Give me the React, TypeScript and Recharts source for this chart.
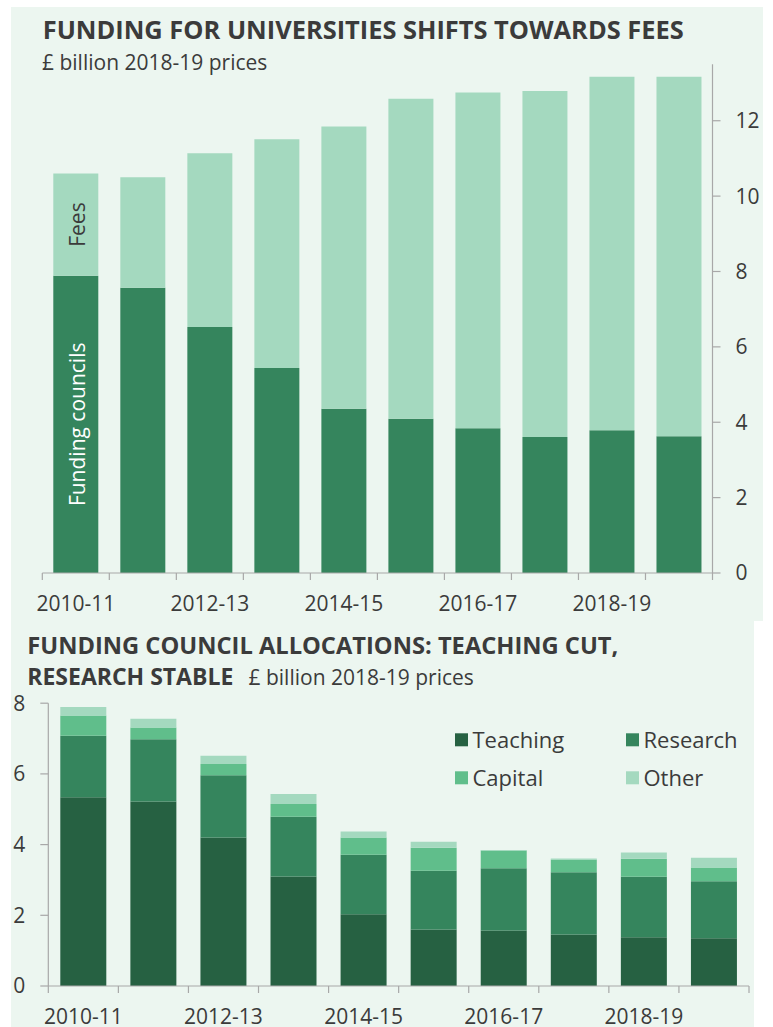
import React from 'react';
import { BarChart, Bar, XAxis, YAxis, LabelList } from 'recharts';

// ---------- data ----------
const years = ['2010-11', '2011-12', '2012-13', '2013-14', '2014-15', '2015-16', '2016-17', '2017-18', '2018-19', '2019-20'];
const fundingCouncils = [7.89, 7.57, 6.53, 5.44, 4.36, 4.09, 3.84, 3.61, 3.79, 3.63];
const fees = [2.71, 2.93, 4.61, 6.07, 7.49, 8.49, 8.91, 9.18, 9.38, 9.54];
const topTicks = [0, 2, 4, 6, 8, 10, 12];

const teaching = [5.34, 5.22, 4.2, 3.1, 2.03, 1.6, 1.57, 1.46, 1.38, 1.35];
const research = [1.74, 1.76, 1.76, 1.69, 1.68, 1.66, 1.76, 1.76, 1.71, 1.61];
const capital = [0.57, 0.33, 0.32, 0.36, 0.49, 0.65, 0.5, 0.36, 0.51, 0.39];
const other = [0.24, 0.25, 0.23, 0.28, 0.17, 0.17, 0.02, 0.03, 0.18, 0.28];
const bottomTicks = [0, 2, 4, 6, 8];
const allocationSeries = ['Teaching', 'Research', 'Capital', 'Other'];

const topData = years.map((y, i) => ({ year: y, fc: fundingCouncils[i], fees: fees[i] }));
const bottomData = years.map((y, i) => ({
  year: y,
  Teaching: teaching[i],
  Research: research[i],
  Capital: capital[i],
  Other: other[i],
}));

// ---------- style ----------
const FONT = '"Open Sans", sans-serif';
const TEXT = '#3b3b3b';
const AXIS = '#a8a8a8';
const BG = '#ecf6f0';
const DARK = '#266142';
const MID = '#35855d';
const LIGHT = '#60be8b';
const PALE = '#a4d9bf';
const seriesColors: Record<string, string> = { Teaching: DARK, Research: MID, Capital: LIGHT, Other: PALE };

// top chart geometry
const T_W = 773;
const T_H = 640;
const T_LEFT = 42.3;
const T_RIGHT = 712.5;
const T_TOP = 64.2;
const T_BOTTOM = 573;
const T_YW = 60;
const T_XH = 50;
const T_BW = (T_RIGHT - T_LEFT) / years.length;

// bottom chart geometry
const B_OFF = 620;
const B_W = 773;
const B_H = 407;
const B_LEFT = 48.3;
const B_RIGHT = 749;
const B_TOP = 703.2;
const B_BOTTOM = 986;
const B_XH = 41;
const B_BW = (B_RIGHT - B_LEFT) / years.length;

const makeXTick = (bw: number, n: number) => (props: any) => {
  const { x, y, index, payload } = props;
  const left = x - bw / 2;
  return (
    <g>
      <line x1={left} y1={y} x2={left} y2={y + 7} stroke={AXIS} strokeWidth={1.2} />
      {index === n - 1 && (
        <line x1={x + bw / 2} y1={y} x2={x + bw / 2} y2={y + 7} stroke={AXIS} strokeWidth={1.2} />
      )}
      {index % 2 === 0 && (
        <text x={x} y={y + 38} textAnchor="middle" fill={TEXT} fontSize={21} fontFamily={FONT}>
          {payload.value}
        </text>
      )}
    </g>
  );
};

const TopTick = makeXTick(T_BW, years.length);
const BottomTick = makeXTick(B_BW, years.length);

const sideLabel = (text: string, color: string) => (props: any) => {
  const { x, y, width, height, index } = props;
  if (index !== 0) return null;
  const cx = Number(x) + Number(width) / 2;
  const cy = Number(y) + Number(height) / 2;
  return (
    <text
      x={cx}
      y={cy + 9}
      transform={`rotate(-90 ${cx} ${cy})`}
      textAnchor="middle"
      fill={color}
      fontSize={21}
      fontFamily={FONT}
    >
      {text}
    </text>
  );
};

const tickStyle = { fill: TEXT, fontSize: 21, fontFamily: FONT };

export default function App() {
  return (
    <div style={{ position: 'absolute', left: 0, top: 0, width: 773, height: 1027, overflow: 'hidden' }}>
      <div style={{ position: 'absolute', left: 11, top: 7, width: 752, height: 614, background: BG }} />
      <div style={{ position: 'absolute', left: 11, top: 621, width: 743, height: 406, background: BG }} />

      <div style={{ position: 'absolute', left: 0, top: 0 }}>
        <BarChart
          width={T_W}
          height={T_H}
          data={topData}
          margin={{ top: T_TOP, left: T_LEFT, right: T_W - T_RIGHT - T_YW, bottom: T_H - T_BOTTOM - T_XH }}
        >
          <XAxis
            dataKey="year"
            height={T_XH}
            interval={0}
            tickLine={false}
            tickSize={0}
            tickMargin={0}
            axisLine={{ stroke: AXIS, strokeWidth: 1.2 }}
            tick={<TopTick />}
          />
          <YAxis
            orientation="right"
            width={T_YW}
            domain={[0, 13.5]}
            ticks={topTicks}
            tickSize={8}
            tickMargin={15}
            axisLine={{ stroke: AXIS, strokeWidth: 1.2 }}
            tickLine={{ stroke: AXIS, strokeWidth: 1.2 }}
            tick={tickStyle}
          />
          <Bar dataKey="fc" stackId="a" fill={MID} barSize={45} isAnimationActive={false}>
            <LabelList dataKey="fc" content={sideLabel('Funding councils', '#ffffff')} />
          </Bar>
          <Bar dataKey="fees" stackId="a" fill={PALE} barSize={45} isAnimationActive={false}>
            <LabelList dataKey="fees" content={sideLabel('Fees', TEXT)} />
          </Bar>
        </BarChart>
      </div>

      <div style={{ position: 'absolute', left: 0, top: B_OFF }}>
        <BarChart
          width={B_W}
          height={B_H}
          data={bottomData}
          margin={{ top: B_TOP - B_OFF, left: 0, right: B_W - B_RIGHT, bottom: B_H - (B_BOTTOM - B_OFF) - B_XH }}
        >
          <XAxis
            dataKey="year"
            height={B_XH}
            interval={0}
            tickLine={false}
            tickSize={0}
            tickMargin={0}
            axisLine={{ stroke: AXIS, strokeWidth: 1.2 }}
            tick={<BottomTick />}
          />
          <YAxis
            orientation="left"
            width={B_LEFT}
            domain={[0, 8]}
            ticks={bottomTicks}
            tickSize={8}
            tickMargin={15}
            axisLine={{ stroke: AXIS, strokeWidth: 1.2 }}
            tickLine={{ stroke: AXIS, strokeWidth: 1.2 }}
            tick={tickStyle}
          />
          {allocationSeries.map((s) => (
            <Bar key={s} dataKey={s} stackId="b" fill={seriesColors[s]} barSize={46} isAnimationActive={false} />
          ))}
        </BarChart>
      </div>

      <svg width={773} height={1027} style={{ position: 'absolute', left: 0, top: 0, pointerEvents: 'none' }}>
        <text
          x={42.7}
          y={38.8}
          fontFamily={FONT}
          fontWeight={700}
          fontSize={25}
          fill={TEXT}
          textLength={641}
          lengthAdjust="spacingAndGlyphs"
        >
          FUNDING FOR UNIVERSITIES SHIFTS TOWARDS FEES
        </text>
        <text x={42} y={70} fontFamily={FONT} fontSize={21} fill={TEXT}>
          £ billion 2018-19 prices
        </text>
        <text
          x={27.3}
          y={654}
          fontFamily={FONT}
          fontWeight={700}
          fontSize={23.5}
          fill={TEXT}
          textLength={591}
          lengthAdjust="spacingAndGlyphs"
        >
          FUNDING COUNCIL ALLOCATIONS: TEACHING CUT,
        </text>
        <text x={27.3} y={685} fontFamily={FONT} fontWeight={700} fontSize={23.5} fill={TEXT}
          textLength={206} lengthAdjust="spacingAndGlyphs">
          RESEARCH STABLE
        </text>
        <text x={248.5} y={685} fontFamily={FONT} fontSize={21} fill={TEXT}>
          £ billion 2018-19 prices
        </text>
        {allocationSeries.map((s, i) => {
          const col = i % 2;
          const row = Math.floor(i / 2);
          const sx = col === 0 ? 455 : 626;
          const base = 748.3 + row * 38;
          return (
            <g key={s}>
              <rect x={sx} y={base - 15} width={13} height={13} fill={seriesColors[s]} />
              <text x={sx + 17.5} y={base} fontFamily={FONT} fontSize={22} fill={TEXT}>
                {s}
              </text>
            </g>
          );
        })}
      </svg>
    </div>
  );
}
